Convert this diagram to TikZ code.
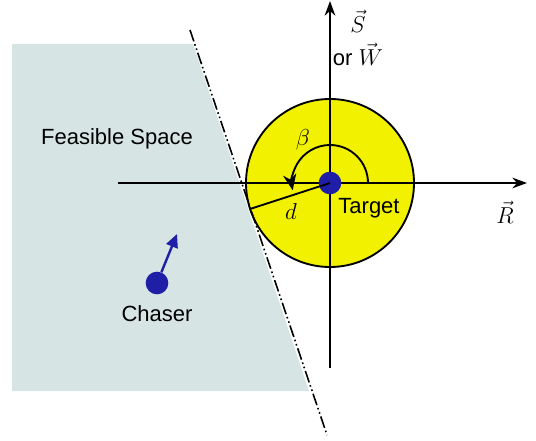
\documentclass[tikz,border=0pt]{standalone}
\usepackage{fontspec}
\setmainfont{Liberation Sans}
\usepackage{xcolor}
\usepackage{tikz}
\usetikzlibrary{arrows.meta,positioning,calc}
\definecolor{spaceGray}{HTML}{D7E4E4}
\definecolor{zoneYellow}{HTML}{F2F200}
\definecolor{dotBlue}{HTML}{1E1EA6}

\begin{document}
\begin{tikzpicture}[
  x=0.75pt, y=0.75pt,
  axis/.style={-{Stealth[length=11pt,width=8pt]}, line width=1.4pt},
  dot/.style={circle, fill=dotBlue, inner sep=0pt, minimum size=17pt},
  txt/.style={font=\fontsize{16.5}{19}\selectfont, inner sep=0pt},
  boundary/.style={line width=1.2pt, dash pattern=on 9pt off 2.2pt on 1.2pt off 2.2pt on 1.2pt off 2.2pt},
  heading/.style={-{Triangle[length=10pt,width=9pt]}, line width=1.8pt, draw=dotBlue}
]
\useasboundingbox (0,0) rectangle (536,440);
% feasible region and protected zone
\fill[spaceGray] (12,396) -- (193,396) -- (309,49) -- (12,49) -- cycle;
\coordinate (origin) at (330,257);
\draw[fill=zoneYellow, line width=1.4pt] (origin) circle (84);
% axes
\draw[axis] (118,257) -- (527,257);
\draw[axis] (330,72) -- (330,439);
\draw[boundary] (190,410) -- (327,5);
% target
\node[dot] (target) at (origin) {};
\coordinate (dend) at ($(origin)+(198:84)$);
\draw[line width=1.4pt] (target.center) -- (dend);
\draw[line width=1.4pt, -{Stealth[length=12pt,width=10pt]}] ($(origin)+(0:38)$) arc[start angle=0, end angle=191, radius=38];
\node[txt] (beta) at (303,300) {$\beta$};
\node[txt] (dlabel) at (291,228) {$d$};
\node[txt] (targetlabel) at (369,232) {Target};
% axis labels
\node[txt] (rlabel) at (505,228) {$\vec{R}$};
\node[txt] (slabel) at (358,419) {$\vec{S}$};
\node[txt] (wlabel) at (358,386) {or $\vec{W}$};
% chaser
\node[txt] (space) at (117,301) {Feasible Space};
\node[dot] (chaser) at (157,157) {};
\coordinate (chaserdir) at (177,206);
\draw[heading] (chaser) -- (chaserdir);
\node[txt, below=8pt of chaser] (chaserlabel) {Chaser};
\end{tikzpicture}
\end{document}
